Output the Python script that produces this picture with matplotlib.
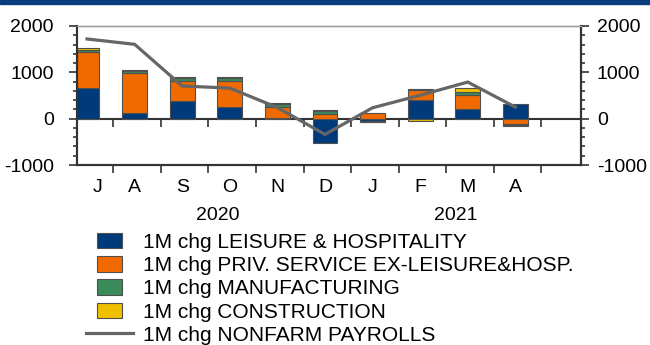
import numpy as np
import matplotlib
matplotlib.use('Agg')
import matplotlib.pyplot as plt
from matplotlib.patches import Rectangle, Patch
from matplotlib.lines import Line2D
from matplotlib.legend_handler import HandlerPatch
from matplotlib.ticker import MultipleLocator

plt.rcParams['font.family'] = ['Liberation Sans', 'DejaVu Sans']
plt.rcParams['axes.unicode_minus'] = False

months = ['J', 'A', 'S', 'O', 'N', 'D', 'J', 'F', 'M', 'A']
years = ['2020', '2021']

# monthly change, thousands
leisure = [655, 120, 390, 250, 5, -520, -50, 400, 200, 310]
priv_ex = [785, 875, 420, 560, 255, 110, 115, 215, 320, -115]
manuf = [40, 30, 65, 60, 55, 55, -15, 25, 55, -20]
constr = [55, 25, 15, 20, 15, 20, -7, -40, 95, -30]
payrolls = [1720, 1605, 705, 660, 240, -340, 235, 505, 790, 250]

names = ['1M chg LEISURE & HOSPITALITY',
         '1M chg PRIV. SERVICE EX-LEISURE&HOSP.',
         '1M chg MANUFACTURING',
         '1M chg CONSTRUCTION']
colors = ['#003A7A', '#F06A00', '#3A8A5A', '#F0C000']
line_color = '#666666'
dark = '#333333'

x = np.arange(len(months))

fig = plt.figure(figsize=(6.5, 3.45), dpi=100)
fig.patches.append(Rectangle((0, 1 - 3.5 / 345), 1, 3.5 / 345, transform=fig.transFigure,
                             color='#0B3C7C', zorder=0))
ax = fig.add_axes([77.3 / 650, 1 - 165 / 345, (581 - 77.3) / 650, 139 / 345])

pos_base = np.zeros(len(x))
neg_base = np.zeros(len(x))
for vals, col in zip([leisure, priv_ex, manuf, constr], colors):
    v = np.array(vals, dtype=float)
    bottom = np.where(v >= 0, pos_base, neg_base)
    ax.bar(x, v, 0.52, bottom=bottom, color=col, edgecolor='#505050', linewidth=0.8, zorder=2)
    pos_base += np.where(v >= 0, v, 0)
    neg_base += np.where(v < 0, v, 0)

ax.plot(x, payrolls, color=line_color, lw=2.3, zorder=4, solid_joinstyle='miter')

ax.set_xlim(-0.204, 10.38)
ax.set_ylim(-1000, 2000)

# y axes, both sides
ax.yaxis.set_major_locator(MultipleLocator(1000))
ax.yaxis.set_minor_locator(MultipleLocator(200))
ax.tick_params(axis='y', which='major', direction='out', length=6, width=1.2,
               labelsize=14, pad=11, colors=dark, labelcolor='black')
ax.tick_params(axis='y', which='minor', direction='out', length=3, width=1.2, colors=dark)

ax2 = ax.twinx()
ax2.set_ylim(-1000, 2000)
ax2.yaxis.set_major_locator(MultipleLocator(1000))
ax2.yaxis.set_minor_locator(MultipleLocator(200))
ax2.tick_params(axis='y', which='major', direction='out', length=6, width=1.2,
                labelsize=14, pad=5.5, colors=dark, labelcolor='black')
ax2.tick_params(axis='y', which='minor', direction='out', length=3, width=1.2, colors=dark)

for a in (ax, ax2):
    for s in ['left', 'right', 'bottom']:
        a.spines[s].set_color(dark)
        a.spines[s].set_linewidth(1.5)
    a.spines['top'].set_color('#a0a0a0')
    a.spines['top'].set_linewidth(1.0)

# month labels and month separators on the bottom axis
label_pos = x.astype(float)
label_pos[0] = 0.23
separators = x + 0.55
ax.set_xticks(label_pos)
ax.set_xticklabels(months)
ax.set_xticks(separators, minor=True)
ax.tick_params(axis='x', which='major', length=0, labelsize=14, pad=10)
ax.tick_params(axis='x', which='minor', direction='out', length=6, width=1.2, colors=dark)

# zero line with separator ticks
zero_ax = ax.secondary_xaxis(1 / 3)
zero_ax.set_alignment('bottom')
zero_ax.set_xticks(separators)
zero_ax.set_xticklabels([])
zero_ax.tick_params(axis='x', direction='out', length=6, width=1.2, colors=dark)
zero_ax.spines['bottom'].set_color(dark)
zero_ax.spines['bottom'].set_linewidth(1.5)

for xp, yr in zip([2.75, 7.74], years):
    ax.text(xp, -0.36, yr, transform=ax.get_xaxis_transform(), ha='center', va='center',
            fontsize=14)


def small_box(legend, orig_handle, xdescent, ydescent, width, height, fontsize):
    w = width * 0.55
    return Rectangle((-xdescent + (width - w) / 2, -ydescent), w, height)


handles = [Patch(facecolor=c, edgecolor='#505050', linewidth=0.8) for c in colors]
handles.append(Line2D([], [], color=line_color, lw=2.3))
labels = names + ['1M chg NONFARM PAYROLLS']
fig.legend(handles, labels, loc='upper left', bbox_to_anchor=(86 / 650, 1 - 233 / 345),
           frameon=False, fontsize=15, handlelength=2.26, handleheight=0.75,
           handletextpad=0.48, labelspacing=0.2, borderpad=0, borderaxespad=0,
           handler_map={Patch: HandlerPatch(patch_func=small_box)})

fig.savefig('out.png', dpi=100)
